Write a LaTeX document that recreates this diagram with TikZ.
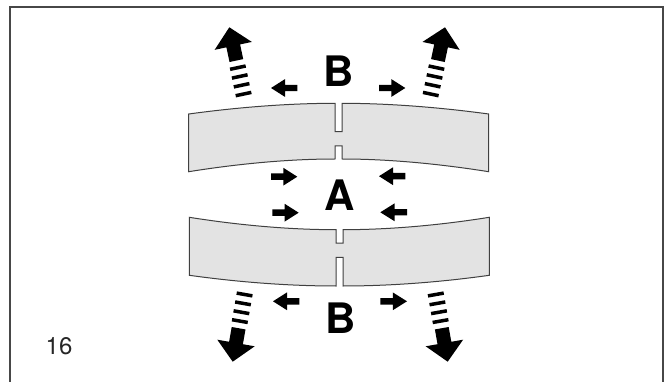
\documentclass[tikz,border=0pt]{standalone}
\usepackage{fontspec}
\setmainfont{TeX Gyre Heros}
\tikzset{
  panel/.style={draw=black!75,fill=black!11,line width=1pt,line join=miter},
  frameline/.style={draw=black!72,line width=1.6pt},
  biglabel/.style={font=\fontsize{42}{42}\selectfont\bfseries,inner sep=0pt,anchor=base},
  pagenum/.style={font=\fontsize{24}{24}\selectfont,text=black!85,inner sep=0pt,anchor=base west}
}
% small arrow: tail x, tip x, y
\newcommand{\smallarr}[3]{%
  \begin{scope}[shift={(#2,#3)},xscale={(#1-#2)/26.3}]
    \fill[black] (0,0)--(14,-8.9)--(14,-3.2)--(26.3,-3.2)--(26.3,3.2)--(14,3.2)--(14,8.9)--cycle;
  \end{scope}}
% big arrow: tip x,y, rotation, vertical flip
\newcommand{\bigarr}[4]{%
  \begin{scope}[shift={(#1,#2)},rotate=#3,yscale=#4]
    \fill[black] (0,0)--(19,19)--(7,19)--(7,34)--(-7,34)--(-7,19)--(-19,19)--cycle;
    \foreach \d in {39.5,48.5,57.5,66.5}{\fill[black] (-8,\d) rectangle (8,\d+3.5);}
  \end{scope}}
\begin{document}
\begin{tikzpicture}[x=1pt,y=-1pt]
\useasboundingbox (0,0) rectangle (669,382);
\fill[white] (0,0) rectangle (669,382);
\draw[frameline] (10,382)--(10,7)--(662.7,7)--(662.7,382);
% upper panel
\draw[panel] (188.7,114) .. controls (240,107) and (290,103.3) .. (335,103.3)
  -- (335,131.7)--(342,131.7)--(342,103.3)
  .. controls (387,103.3) and (437,107) .. (488.7,114)
  -- (488.7,171.7) .. controls (437,163.5) and (387,159) .. (342,159)
  -- (342,146)--(335,146)--(335,159)
  .. controls (290,159) and (240,163.5) .. (188.7,171.7) -- cycle;
% lower panel
\draw[panel] (189.3,217.3) .. controls (241,225.5) and (291,229.7) .. (336,229.7)
  -- (336,243)--(343,243)--(343,229.7)
  .. controls (388,229.7) and (438,225.5) .. (489.3,217.3)
  -- (489.3,275.3) .. controls (438,282.5) and (388,286) .. (343,286)
  -- (343,257.3)--(336,257.3)--(336,286)
  .. controls (291,286) and (241,282.5) .. (189.3,275.3) -- cycle;
% small arrows
\smallarr{297.3}{271}{88}
\smallarr{379}{405.3}{88}
\smallarr{271}{297.3}{176.7}
\smallarr{405.3}{379}{176.2}
\smallarr{272.3}{298.7}{212.7}
\smallarr{407}{380.3}{212.3}
\smallarr{299.3}{273}{301.3}
\smallarr{380.3}{407}{301.3}
% big arrows
\bigarr{229.3}{27.3}{12}{1}
\bigarr{445}{27.3}{-12}{1}
\bigarr{232.7}{361.7}{-10}{-1}
\bigarr{447.7}{361.7}{10}{-1}
% labels
\node[biglabel] (btop) at (339,86.2) {B};
\node[biglabel] (amid) at (339.3,210.7) {A};
\node[biglabel] (bbot) at (340.3,333) {B};
\node[pagenum] (num) at (45.5,354.3) {16};
\end{tikzpicture}
\end{document}
